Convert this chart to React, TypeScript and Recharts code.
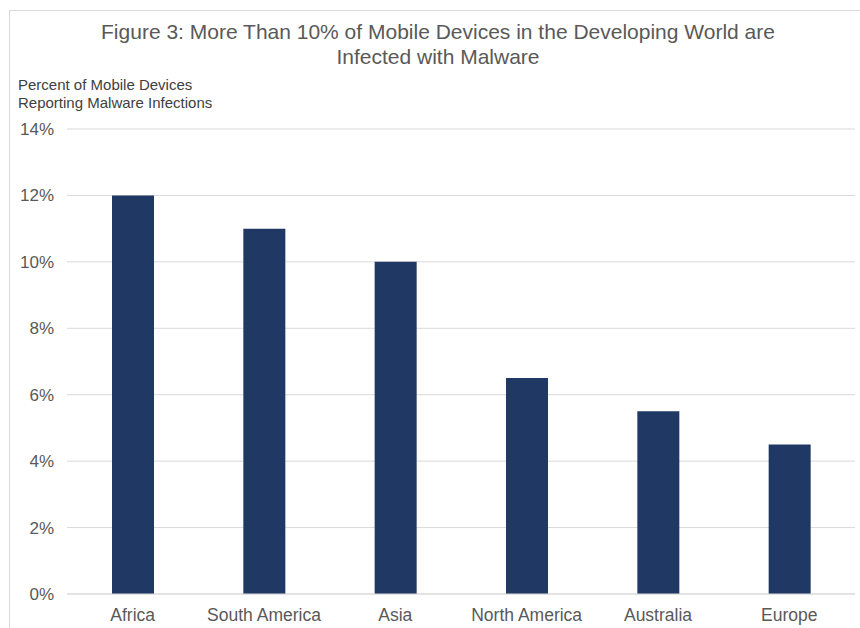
import React from 'react';
import { BarChart, Bar, XAxis, YAxis, CartesianGrid } from 'recharts';

const regions = ['Africa', 'South America', 'Asia', 'North America', 'Australia', 'Europe'];
const infected = [12, 11, 10, 6.5, 5.5, 4.5];
const yTicks = [0, 2, 4, 6, 8, 10, 12, 14];

const data = regions.map((region, i) => ({ region, value: infected[i] }));

const FONT = '"Liberation Sans", Arial, sans-serif';

const App: React.FC = () => {
  return (
    <div style={{ position: 'absolute', left: 0, top: 0, width: 860, height: 628, background: '#fff', fontFamily: FONT }}>
      {/* light frame around the figure */}
      <div
        style={{
          position: 'absolute',
          left: 9,
          top: 10,
          width: 860,
          height: 640,
          border: '1px solid #d9d9d9',
          boxSizing: 'border-box',
        }}
      />
      <div
        style={{
          position: 'absolute',
          left: 0,
          top: 19,
          width: 876,
          textAlign: 'center',
          fontSize: 21,
          lineHeight: '25px',
          color: '#595959',
        }}
      >
        Figure 3: More Than 10% of Mobile Devices in the Developing World are
        <br />
        Infected with Malware
      </div>
      <div
        style={{
          position: 'absolute',
          left: 18,
          top: 76,
          fontSize: 15,
          lineHeight: '18px',
          color: '#404040',
        }}
      >
        Percent of Mobile Devices
        <br />
        Reporting Malware Infections
      </div>
      <div style={{ position: 'absolute', left: 0, top: 0 }}>
        <BarChart
          width={860}
          height={628}
          data={data}
          margin={{ top: 129, right: 5, bottom: 0, left: 0 }}
          barCategoryGap={0}
        >
          <CartesianGrid vertical={false} stroke="#d9d9d9" />
          <XAxis
            dataKey="region"
            height={34}
            tickLine={false}
            axisLine={{ stroke: '#d9d9d9' }}
            tick={{ fontSize: 17.5, fill: '#595959', fontFamily: FONT }}
            tickMargin={9}
            interval={0}
          />
          <YAxis
            width={67}
            domain={[0, 14]}
            ticks={yTicks}
            tickFormatter={(v: number) => `${v}%`}
            tickLine={false}
            axisLine={false}
            tick={{ fontSize: 17, fill: '#595959', fontFamily: FONT }}
            tickMargin={7}
          />
          <Bar dataKey="value" fill="#1f3864" barSize={42} isAnimationActive={false} />
        </BarChart>
      </div>
    </div>
  );
};

export default App;
